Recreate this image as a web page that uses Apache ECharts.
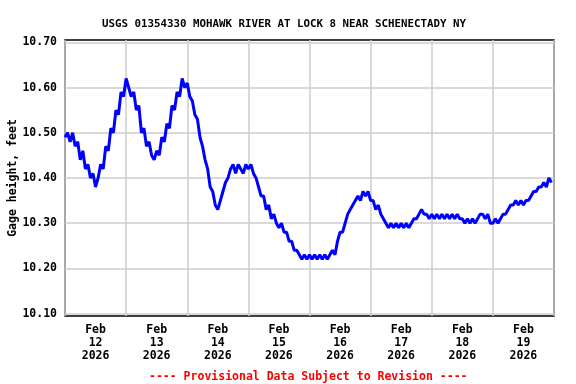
<!DOCTYPE html>
<html><head><meta charset="utf-8">
<script src="https://cdn.jsdelivr.net/npm/echarts@6/dist/echarts.min.js"></script>
<style>html,body{margin:0;padding:0;background:#fff}#c{width:576px;height:384px}</style>
</head><body><div id="c"></div>
<script>
// Hourly gage height (feet), starting Feb 12 2026 00:00
var gageHeight = [
10.49,10.50,10.48,10.50,10.47,10.48,10.44,10.46,10.42,10.43,10.40,10.41,10.38,
10.40,10.43,10.42,10.47,10.46,10.51,10.50,10.55,10.54,10.59,10.58,10.62,
10.60,10.58,10.59,10.55,10.56,10.50,10.51,10.47,10.48,10.45,10.44,10.46,10.45,10.49,10.48,
10.52,10.51,10.56,10.55,10.59,10.58,10.62,10.60,10.61,10.58,10.57,10.54,10.53,10.49,10.47,
10.44,10.42,10.38,10.37,10.34,10.33,10.35,10.37,10.39,10.40,10.42,10.43,10.41,10.43,10.42,
10.41,10.43,10.42,10.43,10.41,10.40,10.38,10.36,10.36,10.33,10.34,10.31,10.32,10.30,10.29,
10.30,10.28,10.28,10.26,10.26,10.24,10.24,10.23,10.22,10.23,10.22,10.23,10.22,10.23,10.22,
10.23,10.22,10.23,10.22,10.23,10.24,10.23,10.26,10.28,10.28,10.30,10.32,10.33,10.34,10.35,
10.36,10.35,10.37,10.36,10.37,10.35,10.35,10.33,10.34,10.32,10.31,10.30,10.29,10.30,10.29,
10.30,10.29,10.30,10.29,10.30,10.29,10.30,10.31,10.31,10.32,10.33,10.32,10.32,10.31,10.32,
10.31,10.32,10.31,10.32,10.31,10.32,10.31,10.32,10.31,10.32,10.31,10.31,10.30,10.31,10.30,
10.31,10.30,10.31,10.32,10.32,10.31,10.32,10.30,10.30,10.31,10.30,10.31,10.32,10.32,10.33,
10.34,10.34,10.35,10.34,10.35,10.34,10.35,10.35,10.36,10.37,10.37,10.38,10.38,10.39,10.38,
10.40,10.39
];
var dayNumbers = [12,13,14,15,16,17,18,19];
var monthLabel = 'Feb';
var yearLabel = '2026';
var yTicks = [10.10,10.20,10.30,10.40,10.50,10.60,10.70];
var dayBoundaries = [0,24,48,72,96,120,144,168,192];
var labelHours = [12,36,60,84,108,132,156,180];
var titleText = 'USGS 01354330 MOHAWK RIVER AT LOCK 8 NEAR SCHENECTADY NY';
var footerText = '---- Provisional Data Subject to Revision ----';
var yName = 'Gage height, feet';

var seriesData = gageHeight.map(function (v, i) { return [i, v]; });
var FONT = '"DejaVu Sans Mono", "Liberation Mono", monospace';

var chart = echarts.init(document.getElementById('c'), null, {renderer: 'canvas'});
chart.setOption({
  animation: false,
  backgroundColor: '#ffffff',
  title: [
    {text: titleText, left: 97, top: 14,
     textStyle: {fontFamily: FONT, fontSize: 10.8, fontWeight: 'bold', color: '#000'}},
    {text: footerText, left: 144, top: 366,
     textStyle: {fontFamily: FONT, fontSize: 11.5, fontWeight: 'bold', color: '#ff0000'}}
  ],
  grid: {left: 65, right: 22, top: 40, bottom: 68, outerBoundsMode: 'none', containLabel: false,
         show: true, borderColor: '#000', borderWidth: 1.5, backgroundColor: 'transparent'},
  xAxis: {
    type: 'value', min: 0, max: 192,
    axisLine: {show: false},
    axisTick: {show: false, customValues: dayBoundaries},
    splitLine: {show: true, lineStyle: {color: '#cccccc', width: 1.5}},
    axisLabel: {
      customValues: labelHours,
      margin: 8,
      fontFamily: FONT, fontSize: 11.5, fontWeight: 'bold', color: '#000', lineHeight: 13,
      formatter: function (v) {
        var d = dayNumbers[Math.floor(v / 24)];
        return monthLabel + '\n' + d + '\n' + yearLabel;
      }
    }
  },
  yAxis: {
    type: 'value', min: 10.0947, max: 10.7051,
    name: yName, nameLocation: 'middle', nameGap: 46, nameMoveOverlap: false,
    nameTextStyle: {fontFamily: FONT, fontSize: 11.5, fontWeight: 'bold', color: '#000'},
    axisLine: {show: false},
    axisTick: {show: false, customValues: yTicks},
    splitLine: {show: true, lineStyle: {color: '#cccccc', width: 1.5}},
    axisLabel: {
      customValues: yTicks, margin: 8,
      fontFamily: FONT, fontSize: 11.5, fontWeight: 'bold', color: '#000',
      formatter: function (v) { return v.toFixed(2); }
    }
  },
  series: [{
    type: 'line', data: seriesData, showSymbol: false, sampling: null,
    lineStyle: {color: '#0000ff', width: 3}, z: 3
  }]
});
</script></body></html>
